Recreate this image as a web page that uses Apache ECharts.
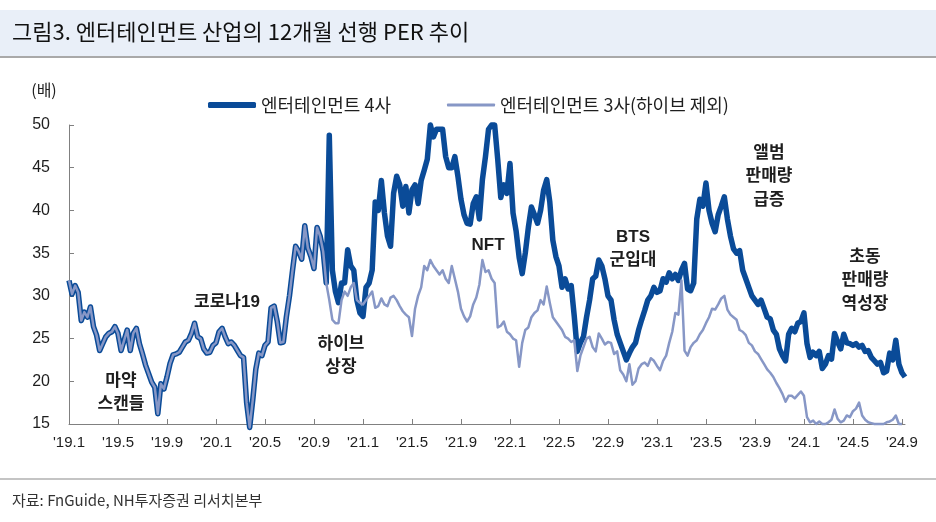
<!DOCTYPE html>
<html>
<head>
<meta charset="utf-8">
<script src="https://cdn.jsdelivr.net/npm/echarts@6/dist/echarts.min.js"></script>
<style>
html,body{margin:0;padding:0;background:#fff;}
#chart{width:936px;height:522px;}
</style>
</head>
<body>
<div id="chart"></div>
<script>
// Weekly readings (4 per month), starting Jan 2019
const ent4 = [
  31.8, 30.2, 31.2, 30.4,  27.1, 28.1, 27.5, 28.7,  26.4, 25.4, 23.6, 24.4,  25.2, 25.6, 25.8, 26.4,
  25.6, 23.6, 24.8, 26.0,  23.6, 25.6, 26.2, 24.4,  23.2, 21.9, 20.9, 19.9,  19.3, 16.2, 19.7, 19.1,
  20.5, 22.1, 23.1, 23.2,  23.4, 24.0, 24.6, 24.8,  25.6, 26.8, 25.2, 25.0,  23.8, 23.3, 23.4, 24.2,
  24.5, 25.8, 26.2, 25.2,  24.4, 24.6, 24.2, 23.6,  23.0, 22.8, 17.5, 14.6,  17.8, 21.4, 23.3, 23.0,
  24.2, 24.6, 28.6, 28.8,  27.0, 24.5, 24.6, 27.6,  30.0, 33.0, 35.8, 35.2,  34.3, 38.2, 35.6, 34.6,
  33.2, 38.0, 37.0, 35.2,  31.5, 48.8, 33.0, 30.5,  29.2, 31.5, 31.5, 35.4,  33.5, 33.0, 29.5, 28.0,
  27.6, 31.0, 31.5, 33.0,  41.0, 40.0, 43.5, 39.7,  37.0, 35.8, 42.0, 44.0,  43.0, 40.5, 42.8, 39.7,
  42.4, 43.0, 40.8, 43.5,  44.7, 46.0, 50.0, 48.6,  49.5, 49.5, 49.5, 46.3,  45.0, 45.0, 46.3, 44.0,
  41.3, 39.5, 38.5, 38.4,  40.8, 41.6, 39.0, 43.6,  46.3, 49.5, 50.0, 50.0,  46.0, 41.5, 43.0, 42.0,
  45.5, 39.7, 37.6, 34.5,  32.6, 35.0, 38.0, 40.4,  39.5, 38.5, 40.0, 42.4,  43.6, 41.0, 36.5, 34.6,
  33.5, 31.0, 32.0, 30.8,  31.2, 27.6, 23.5, 24.5,  25.2, 27.5, 29.5, 32.0,  32.3, 34.2, 33.5, 32.0,
  30.0, 29.5, 27.2, 25.5,  24.5, 23.5, 22.5, 23.3,  24.0, 24.5, 26.0, 27.2,  28.3, 29.5, 30.0, 31.0,
  30.4, 30.6, 32.0, 31.6,  32.7, 32.0, 32.5, 31.8,  33.0, 33.8, 30.8, 30.6,  31.5, 39.0, 41.3, 40.5,
  43.2, 40.0, 38.5, 37.5,  39.5, 40.5, 41.6, 39.0,  37.0, 35.5, 35.0, 35.3,  33.0, 32.0, 31.0, 30.0,
  29.5, 29.0, 29.5, 28.5,  27.5, 27.3, 26.0, 25.5,  23.8, 23.0, 22.4, 25.5,  26.2, 25.8, 26.8, 27.0,
  28.0, 24.4, 22.8, 23.4,  23.0, 23.5, 21.5, 22.0,  23.0, 22.6, 25.6, 24.6,  23.8, 25.5, 24.5, 24.4,
  24.2, 24.4, 24.0, 24.2,  23.5, 23.6, 22.8, 22.4,  22.0, 22.2, 21.0, 21.2,  23.3, 22.5, 24.8, 22.0,
  21.0, 20.5
];
const ent3 = [
  31.8, 30.2, 31.2, 30.4,  27.1, 28.1, 27.5, 28.7,  26.4, 25.4, 23.6, 24.4,  25.2, 25.6, 25.8, 26.4,
  25.6, 23.6, 24.8, 26.0,  23.6, 25.6, 26.2, 24.4,  23.2, 21.9, 20.9, 19.9,  19.3, 16.2, 19.7, 19.1,
  20.5, 22.1, 23.1, 23.2,  23.4, 24.0, 24.6, 24.8,  25.6, 26.8, 25.2, 25.0,  23.8, 23.3, 23.4, 24.2,
  24.5, 25.8, 26.2, 25.2,  24.4, 24.6, 24.2, 23.6,  23.0, 22.8, 17.5, 14.6,  17.8, 21.4, 23.3, 23.0,
  24.2, 24.6, 28.6, 28.8,  27.0, 24.5, 24.6, 27.6,  30.0, 33.0, 35.8, 35.2,  34.3, 38.2, 35.6, 34.6,
  33.2, 38.0, 37.0, 35.2,  31.5, 29.5, 27.2, 26.8,  26.8, 29.5, 30.5, 30.0,  31.0, 31.5, 29.5, 29.2,
  29.0, 29.5, 30.0, 30.5,  28.6, 28.8, 29.7, 29.0,  28.8, 29.8, 30.0, 29.5,  28.8, 28.2, 27.8, 27.5,
  25.3, 28.5, 30.0, 31.0,  33.5, 33.0, 34.2, 33.5,  33.0, 32.5, 33.0, 32.0,  31.5, 33.5, 32.0, 30.5,
  28.5, 27.6, 27.0, 27.6,  29.0, 29.8, 31.3, 34.2,  32.8, 33.0, 32.0, 31.5,  26.3, 26.5, 27.0, 25.8,
  25.5, 25.0, 24.8, 21.7,  24.5, 26.0, 26.3, 27.5,  28.0, 28.3, 29.5, 29.0,  31.1, 29.2, 27.5, 27.0,
  26.5, 26.0, 25.2, 25.0,  24.6, 24.8, 21.2, 23.0,  24.0, 25.0, 25.2, 24.0,  23.5, 25.6, 25.0, 24.3,
  24.6, 24.5, 23.2, 23.5,  21.3, 20.8, 20.0, 22.0,  19.6, 20.0, 21.5, 22.0,  22.2, 21.8, 22.7, 22.4,
  21.8, 21.3, 22.4, 23.0,  24.5, 25.8, 28.0, 27.8,  31.8, 23.6, 23.0, 24.0,  24.5, 24.8, 25.5, 26.0,
  26.8, 27.5, 28.5, 28.4,  29.0, 29.7, 30.0, 28.4,  27.8, 27.5, 27.2, 26.0,  25.8, 25.4, 24.5, 24.2,
  23.5, 23.2, 22.6, 22.0,  21.4, 21.0, 20.5, 19.8,  19.2, 18.5, 17.6, 18.3,  18.3, 18.0, 18.4, 18.8,
  18.3, 15.8, 15.2, 15.4,  15.0, 15.3, 15.0, 15.0,  15.2, 15.5, 16.7, 15.6,  15.2, 15.4, 16.0, 15.8,
  16.5, 16.8, 17.5, 16.0,  15.5, 15.2, 15.1, 15.0,  15.0, 15.0, 15.0, 15.2,  15.3, 15.5, 16.0, 15.0,
  15.0
];
const xTickLabels = ["'19.1","'19.5","'19.9","'20.1","'20.5","'20.9","'21.1","'21.5","'21.9",
                     "'22.1","'22.5","'22.9","'23.1","'23.5","'23.9","'24.1","'24.5","'24.9"];
const seriesNames = ['엔터테인먼트 4사', '엔터테인먼트 3사(하이브 제외)'];
const titleText = '그림3. 엔터테인먼트 산업의 12개월 선행 PER 추이';
const sourceText = '자료: FnGuide, NH투자증권 리서치본부';
const unitText = '(배)';
const notes = [
  {lines: ['마약', '스캔들'], x: 121, y: 381},
  {lines: ['코로나19'], x: 227, y: 302},
  {lines: ['하이브', '상장'], x: 341, y: 344},
  {lines: ['NFT'], x: 488, y: 245},
  {lines: ['BTS', '군입대'], x: 633, y: 237},
  {lines: ['앨범', '판매량', '급증'], x: 769, y: 153},
  {lines: ['초동', '판매량', '역성장'], x: 865, y: 257}
];

const WEEKS = 4; // points per month
const toPairs = arr => arr.map((v, i) => [i / WEEKS, v]);

const DARK = '#0a4b98';
const LIGHT = '#8797c6';
const TXT = '#1e1e1e';
const FONT = '"Liberation Sans", "Noto Sans CJK KR", sans-serif';
const KFONT = '"Noto Sans CJK KR", "Liberation Sans", sans-serif';

const graphics = [
  {type: 'rect', shape: {x: 0, y: 10, width: 936, height: 46}, style: {fill: '#e9eff8'}, silent: true},
  {type: 'line', shape: {x1: 0, y1: 57, x2: 936, y2: 57}, style: {stroke: '#a9a9a9', lineWidth: 2}},
  {type: 'text', style: {text: titleText, x: 12, y: 32, font: 'normal 22px ' + KFONT, fill: '#111', textVerticalAlign: 'middle'}},
  {type: 'text', style: {text: unitText, x: 44, y: 90, font: 'normal 16px ' + KFONT, fill: TXT, textAlign: 'center', textVerticalAlign: 'middle'}},
  {type: 'line', shape: {x1: 0, y1: 479, x2: 936, y2: 479}, style: {stroke: '#c4c4c4', lineWidth: 2}},
  {type: 'text', style: {text: sourceText, x: 12, y: 500, font: 'normal 15px ' + KFONT, fill: '#333', textVerticalAlign: 'middle'}}
];
notes.forEach(n => {
  n.lines.forEach((t, k) => {
    graphics.push({type: 'text', z: 10, style: {
      text: t, x: n.x, y: n.y + k * 23.5,
      font: 'bold 17px ' + FONT,
      fill: TXT, textAlign: 'center', textVerticalAlign: 'middle'}});
  });
});

const chart = echarts.init(document.getElementById('chart'), null, {renderer: 'canvas'});
chart.setOption({
  animation: false,
  backgroundColor: '#ffffff',
  grid: {left: 69, right: 31, top: 125, bottom: 98},
  legend: [
    {data: [seriesNames[0]], left: 203, top: 91, icon: 'roundRect', itemWidth: 48, itemHeight: 6, itemGap: 0,
     textStyle: {fontSize: 18, color: TXT, fontFamily: KFONT}},
    {data: [seriesNames[1]], left: 442, top: 91, icon: 'roundRect', itemWidth: 48, itemHeight: 3, itemGap: 0,
     textStyle: {fontSize: 18, color: TXT, fontFamily: KFONT}}
  ],
  xAxis: {
    type: 'value', min: 0, max: 68.25, interval: 4,
    axisLine: {lineStyle: {color: '#808080', width: 1}},
    axisTick: {inside: true, length: 5, lineStyle: {color: '#808080'}},
    splitLine: {show: false},
    axisLabel: {
      showMaxLabel: false, margin: 11, fontSize: 15, color: TXT, fontFamily: FONT,
      formatter: v => (Math.abs(v % 4) < 1e-6 ? (xTickLabels[Math.round(v / 4)] || '') : '')
    }
  },
  yAxis: {
    type: 'value', min: 15, max: 50, interval: 5,
    axisLine: {show: true, lineStyle: {color: '#808080', width: 1}},
    axisTick: {show: true, inside: true, length: 5, lineStyle: {color: '#808080'}},
    splitLine: {show: false},
    axisLabel: {margin: 19, fontSize: 16, color: TXT, fontFamily: FONT}
  },
  graphic: graphics,
  series: [
    {name: seriesNames[0], type: 'line', data: toPairs(ent4), symbol: 'none', showSymbol: false,
     clip: false, z: 2, lineStyle: {color: DARK, width: 5.5, join: 'round'}, itemStyle: {color: DARK}},
    {name: seriesNames[1], type: 'line', data: toPairs(ent3), symbol: 'none', showSymbol: false,
     clip: false, z: 3, lineStyle: {color: LIGHT, width: 2.5, join: 'round'}, itemStyle: {color: LIGHT}}
  ]
});
</script>
</body>
</html>
